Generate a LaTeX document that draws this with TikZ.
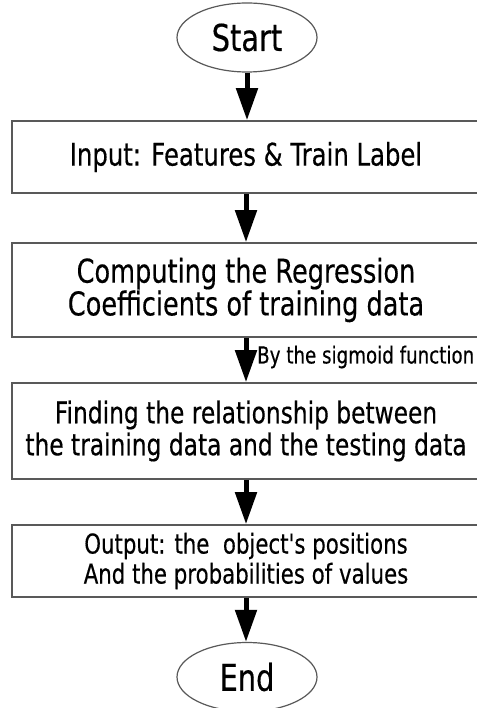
\documentclass[tikz,border=0pt]{standalone}
\usepackage{fontspec}
\newfontfamily\dv[FakeStretch=0.78,FakeBold=0.4]{DejaVu Sans}
\usetikzlibrary{shapes.geometric,arrows.meta}
\begin{document}
\begin{tikzpicture}[x=1pt,y=-1pt,
  box/.style={draw=black!65, line width=1.6pt, rectangle, minimum width=468pt, inner sep=0pt, align=center},
  term/.style={draw=black!65, line width=1.2pt, ellipse, minimum width=140pt, minimum height=69pt, inner sep=0pt, font={\dv\fontsize{37}{40}\selectfont}},
  arr/.style={line width=5pt, -{Triangle[length=32pt,width=21pt]}},
  lbl/.style={inner sep=0pt, anchor=west, font={\dv\fontsize{23.4}{26}\selectfont}}]
\useasboundingbox (0,0) rectangle (476,708);
\fill[white] (0,0) rectangle (476,708);
\node[term] (start) at (247,37.5) {Start};
\node[box, minimum height=72pt, font={\dv\fontsize{31.2}{31}\selectfont}] (b1) at (246,157) {Input: Features \& Train Label};
\node[box, minimum height=94pt, font={\dv\fontsize{32.8}{31}\selectfont}] (b2) at (246,290) {Computing the Regression\\Coefficients of training data};
\node[box, minimum height=96pt, font={\dv\fontsize{29.9}{32}\selectfont}] (b3) at (246,431) {Finding the relationship between\\the training data and the testing data};
\node[box, minimum height=72pt, font={\dv\fontsize{27.3}{30}\selectfont}] (b4) at (246,561) {Output: the~ object's positions\\And the probabilities of values};
\node[term] (end) at (247,677) {End};
\draw[arr] (start.south) -- (start.south |- b1.north);
\draw[arr] (b1.south) -- (b2.north);
\draw[arr] (b2.south) -- (b3.north);
\draw[arr] (b3.south) -- (b4.north);
\draw[arr] (b4.south) -- (b4.south |- end.north);
\node[lbl] (sig) at (257,357) {By the sigmoid function};
\end{tikzpicture}
\end{document}
